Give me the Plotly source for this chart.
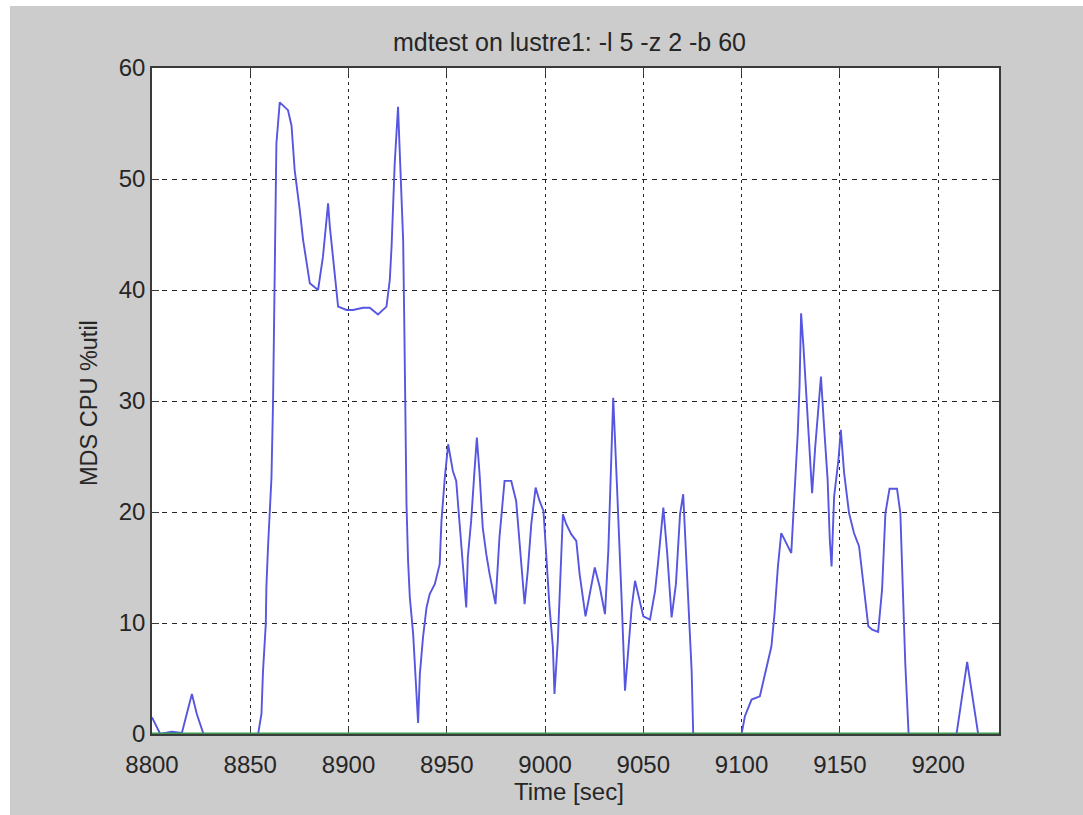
import plotly.graph_objects as go

# ---- data ----
time_sec = [8800, 8804.2, 8810, 8815.2, 8820.3, 8822.8, 8826.2, 8854.0, 8855.7, 8856.5,
            8857.9, 8858.2, 8859.1, 8859.9, 8860.8, 8861.6, 8862.1, 8862.5, 8863.3, 8865.0,
            8869.2, 8871.0, 8872.6, 8875.2, 8876.9, 8880.3, 8884.5, 8887.0, 8889.6, 8890.5,
            8893.0, 8894.7, 8899.0, 8902.3, 8907.4, 8910.8, 8915.0, 8919.3, 8921.0, 8921.9,
            8923.5, 8925.2, 8926.1, 8927.8, 8928.4, 8928.9, 8929.5, 8930.3, 8931.2, 8932.9,
            8934.6, 8935.4, 8936.3, 8937.9, 8939.7, 8941.3, 8943.9, 8946.4, 8947.3, 8949.0,
            8950.7, 8953.1, 8954.8, 8956.5, 8957.4, 8959.9, 8960.7, 8962.4, 8964.1, 8965.3,
            8966.7, 8968.3, 8970.1, 8971.8, 8974.8, 8976.8, 8979.4, 8982.8, 8985.3, 8987.0,
            8989.6, 8991.2, 8993.0, 8995.2, 8997.2, 8999.2, 9000.6, 9002.3, 9004.0, 9004.8,
            9006.5, 9007.4, 9009.1, 9010.8, 9013.3, 9015.9, 9017.6, 9020.6, 9025.3, 9027.9,
            9030.5, 9032.2, 9033.4, 9034.7, 9036.5, 9038.1, 9039.0, 9040.7, 9042.9, 9044.1,
            9045.8, 9047.9, 9050.0, 9053.4, 9056.0, 9057.6, 9060.2, 9062.2, 9064.4, 9066.6,
            9068.7, 9070.3, 9072.1, 9073.4, 9074.6, 9075.4, 9100.0, 9101.7, 9105.1, 9109.3,
            9112.6, 9115.2, 9116.8, 9118.5, 9120.2, 9122.7, 9125.3, 9126.4, 9127.4, 9128.6,
            9129.5, 9130.3, 9131.5, 9133.2, 9134.5, 9135.9, 9137.5, 9138.7, 9140.4, 9142.1,
            9143.8, 9144.9, 9145.8, 9147.1, 9149.3, 9150.5, 9152.2, 9154.7, 9157.2, 9159.8,
            9162.3, 9164.5, 9166.5, 9169.5, 9171.5, 9173.2, 9175.3, 9179.1, 9180.8, 9181.6,
            9183.3, 9185.0, 9209.4, 9214.8, 9220.4, 9231.0]

mds_cpu_util = [1.5, 0, 0.2, 0.1, 3.6, 1.8, 0, 0, 1.8, 5.7,
                9.9, 13.2, 17.1, 20.1, 23.1, 30.0, 38.2, 45.7, 53.2, 56.9,
                56.2, 54.8, 50.8, 47.2, 44.5, 40.6, 40.0, 43.0, 47.8, 45.7,
                41.2, 38.5, 38.2, 38.2, 38.4, 38.4, 37.8, 38.5, 40.9, 43.9,
                51.4, 56.5, 52.3, 44.5, 36.7, 28.8, 20.7, 15.6, 12.3, 9.0,
                3.0, 1.0, 5.4, 8.7, 11.4, 12.6, 13.5, 15.3, 19.2, 23.1,
                26.1, 23.7, 22.8, 19.2, 16.8, 11.4, 15.9, 19.2, 23.7, 26.7,
                23.4, 18.6, 16.2, 14.4, 11.7, 17.7, 22.8, 22.8, 21.0, 17.4,
                11.7, 14.7, 18.9, 22.2, 21.0, 20.1, 16.2, 11.4, 7.8, 3.6,
                8.4, 12.0, 19.8, 18.9, 18.0, 17.4, 14.4, 10.6, 15.0, 13.2,
                10.8, 16.5, 24.3, 30.3, 22.8, 16.8, 12.0, 3.9, 8.4, 11.4,
                13.8, 12.3, 10.6, 10.3, 12.9, 15.6, 20.4, 16.2, 10.5, 13.5,
                19.8, 21.6, 15.0, 10.2, 5.7, 0, 0, 1.6, 3.1, 3.4,
                5.8, 7.9, 10.9, 15.1, 18.1, 17.2, 16.3, 19.9, 22.9, 27.1,
                31.3, 37.9, 34.9, 29.5, 25.9, 21.7, 25.9, 28.9, 32.2, 27.4,
                22.9, 17.5, 15.1, 21.4, 24.7, 27.4, 23.5, 19.9, 18.1, 16.9,
                13.3, 9.7, 9.4, 9.2, 13.0, 19.9, 22.1, 22.1, 19.9, 15.4,
                6.4, 0, 0, 6.5, 0, 0]

baseline_time = [8800, 9231]
baseline_vals = [0, 0]

x_ticks = [8800, 8850, 8900, 8950, 9000, 9050, 9100, 9150, 9200]
y_ticks = [0, 10, 20, 30, 40, 50, 60]

FONT = "Liberation Sans, Arial, sans-serif"
TXT = "#262626"
PW, PH = 847, 666   # plot area size in px
ML, MT, MB = 152, 68, 81

fig = go.Figure()
fig.add_trace(go.Scatter(x=time_sec, y=mds_cpu_util, mode="lines",
                         line=dict(color="#5656e0", width=1.9), showlegend=False))
fig.add_trace(go.Scatter(x=baseline_time, y=baseline_vals, mode="lines",
                         line=dict(color="#3f9a55", width=3.2), showlegend=False))

fig.update_layout(
    width=1083, height=815,
    margin=dict(l=ML, r=84, t=MT, b=MB),
    paper_bgcolor="#cccccc", plot_bgcolor="#ffffff",
    font=dict(family=FONT, size=24, color=TXT),
    title=dict(text="mdtest on lustre1: -l 5 -z 2 -b 60", x=569.5 / 1083, xref="container",
               xanchor="center", y=1 - 42 / 815, yref="container", yanchor="middle",
               font=dict(size=25, color=TXT)),
)
fig.update_xaxes(range=[8800, 9231], tickvals=x_ticks, ticktext=[str(v) for v in x_ticks],
                 showgrid=True, gridcolor="#262626", gridwidth=1, griddash="3px,4px",
                 showline=True, linecolor="#3a3a3a", linewidth=1.5, mirror="ticks",
                 ticks="inside", ticklen=7, tickcolor="#3a3a3a", zeroline=False,
                 layer="below traces",
                 tickfont=dict(size=24, color=TXT), ticklabelstandoff=8)
fig.update_yaxes(range=[0, 60], tickvals=y_ticks, ticktext=[str(v) for v in y_ticks],
                 showgrid=True, gridcolor="#262626", gridwidth=1, griddash="5px,5px",
                 showline=True, linecolor="#3a3a3a", linewidth=1.5, mirror="ticks",
                 ticks="inside", ticklen=7, tickcolor="#3a3a3a", zeroline=False,
                 layer="below traces",
                 tickfont=dict(size=24, color=TXT), ticklabelstandoff=0)

# axis titles placed as annotations at the reference positions
fig.add_annotation(text="Time [sec]", xref="paper", yref="paper",
                   x=(569 - ML) / PW, y=-(791 - (MT + PH)) / PH,
                   xanchor="center", yanchor="middle", showarrow=False,
                   font=dict(size=24, color=TXT))
fig.add_annotation(text="MDS CPU %util", xref="paper", yref="paper",
                   x=-(ML - 89) / PW, y=((MT + PH) - 403) / PH, textangle=-90,
                   xanchor="center", yanchor="middle", showarrow=False,
                   font=dict(size=23.5, color=TXT))

# thin white strips at the left and top edges of the picture
fig.add_shape(type="rect", xref="paper", yref="paper", x0=-ML / PW, x1=-(ML - 10) / PW,
              y0=-MB / PH, y1=(PH + MT) / PH, fillcolor="white", line_width=0, layer="above")
fig.add_shape(type="rect", xref="paper", yref="paper", x0=-ML / PW, x1=(PW + 84) / PW,
              y0=(PH + MT - 6) / PH, y1=(PH + MT) / PH, fillcolor="white", line_width=0, layer="above")

fig.write_html("out.html")
